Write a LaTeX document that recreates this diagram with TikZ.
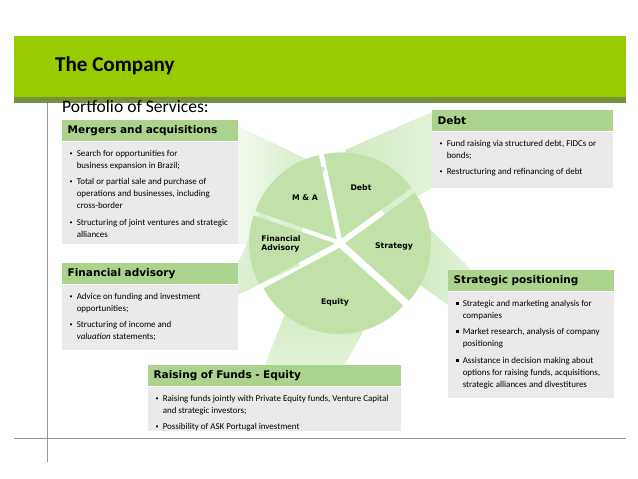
\documentclass[tikz,border=0pt]{standalone}
\usepackage{fontspec}
\setmainfont{Carlito}
\newfontfamily\hdfont{DejaVu Sans}
\usepackage{tikz}

\definecolor{bargreen}{RGB}{153,204,0}
\definecolor{stripgreen}{RGB}{118,146,60}
\definecolor{hdgreen}{RGB}{172,211,142}
\definecolor{bodygray}{RGB}{234,234,234}
\definecolor{slicegreen}{RGB}{194,225,168}
\definecolor{funnelgreen}{RGB}{208,234,192}
\definecolor{linegray}{RGB}{150,150,150}

\tikzset{
  hdbox/.style={fill=hdgreen, anchor=north west, inner xsep=3pt, inner ysep=0pt,
    minimum height=12pt, align=left, font=\hdfont\bfseries\fontsize{6}{7}\selectfont},
  bodybox/.style={fill=bodygray, anchor=north west, inner xsep=2.5pt, inner ysep=0pt,
    font=\fontsize{5.1}{6.8}\selectfont},
  slicelabel/.style={font=\hdfont\bfseries\fontsize{4.4}{5.2}\selectfont, align=left},
}
% bullet line with hanging indent
\newcommand{\smbul}{\raisebox{0.5pt}{\fontsize{3.4}{4}\selectfont\textbullet}}
\newcommand{\sqbul}{\rule[0.9pt]{1.6pt}{1.6pt}}
\newcommand{\svcitem}[2][\smbul]{\par\hangindent=5.7pt\hangafter=1\noindent
  \makebox[5.7pt][l]{\hspace{1.7pt}#1}#2\par\vspace{2.6pt}}
\newcommand{\svcbox}[3]{\parbox[t][#1][t]{#2}{\rightskip=0pt plus 1fil\relax\hfuzz=4pt\vspace{4.5pt}#3}}

\begin{document}
\begin{tikzpicture}[x=0.02cm, y=-0.02cm]
    \useasboundingbox (0,0) rectangle (638,479);
    % title bar
    \fill[bargreen](14,36) rectangle (626,97);
    \fill[stripgreen](14,97) rectangle (626,103);
    \node[anchor=west, font=\bfseries\fontsize{12}{14}\selectfont] (title) at (49,66) {The Company};
    \draw[linegray](47,103)--(47,462);
    \draw[linegray](14,438)--(626,438);
    \node[anchor=west, font=\fontsize{10}{12}\selectfont] (portfolio) at (56,106) {Portfolio of Services:};

    % funnels from the boxes to the pie
    \shade[left color=white!70!funnelgreen, right color=funnelgreen](238,126)--(325,168)--(300,235)--(238,245)--cycle;
    \shade[left color=funnelgreen, right color=white!40!funnelgreen](432,112)--(345,150)--(385,215)--(432,188)--cycle;
    \shade[left color=white!30!funnelgreen, right color=funnelgreen](238,263)--(262,210)--(300,265)--(238,295)--cycle;
    \shade[left color=funnelgreen, right color=white!40!funnelgreen](412,212)--(472,270)--(448,270)--(448,305)--(420,285)--cycle;
    \shade[top color=funnelgreen, bottom color=white!40!funnelgreen](265,365)--(290,300)--(380,300)--(345,365)--cycle;

    % exploded pie
    \begin{scope}[shift={(340,243)}, x=0.02cm, y=0.02cm]
        \foreach \a/\b in {36/102, 102/161, 161/208, 208/318, 318/396}
            \fill[slicegreen]({(\a+\b)/2}:5)--+(\a:86) arc(\a:\b:86)--cycle;
    \end{scope}
    \node[slicelabel] (ma) at (305,198) {M \& A};
    \node[slicelabel] (debt) at (361,188) {Debt};
    \node[slicelabel] (fa) at (281,244) {Financial\\Advisory};
    \node[slicelabel] (strat) at (394,246) {Strategy};
    \node[slicelabel] (eq) at (335,302) {Equity};

    % service boxes
    \node[hdbox, text width=93.8pt] (mahead) at (62,120) {Mergers and acquisitions};
    \node[bodybox] (mabody) at (mahead.south west) {\svcbox{58pt}{94.8pt}{%
        \svcitem{Search for opportunities for\\ business expansion in Brazil;}
        \svcitem{Total or partial sale and purchase of\\ operations and businesses, including\\ cross-border}
        \svcitem{Structuring of joint ventures and strategic\\ alliances}}};

    \node[hdbox, text width=97pt] (dbhead) at (432,110) {Debt};
    \node[bodybox] (dbbody) at (dbhead.south west) {\svcbox{32pt}{98pt}{%
        \svcitem{Fund raising via structured debt, FIDCs or\\ bonds;}
        \svcitem{Restructuring and refinancing of debt}}};

    \node[hdbox, text width=93.8pt] (fahead) at (62,263) {Financial advisory};
    \node[bodybox] (fabody) at (fahead.south west) {\svcbox{37pt}{94.8pt}{%
        \svcitem{Advice on funding and investment\\ opportunities;}
        \svcitem{Structuring of income and\\ \textit{valuation} statements;}}};

    \node[hdbox, text width=88.1pt] (sphead) at (448,270) {Strategic positioning};
    \node[bodybox] (spbody) at (sphead.south west) {\svcbox{60pt}{89.1pt}{%
        \svcitem[\sqbul]{Strategic and marketing analysis for\\ companies}
        \svcitem[\sqbul]{Market research, analysis of company\\ positioning}
        \svcitem[\sqbul]{Assistance in decision making about\\ options for raising funds, acquisitions,\\ strategic alliances and divestitures}}};

    \node[hdbox, text width=138pt] (rfhead) at (148,365) {Raising of Funds - Equity};
    \node[bodybox] (rfbody) at (rfhead.south west) {\svcbox{25pt}{139pt}{%
        \svcitem{Raising funds jointly with Private Equity funds, Venture Capital\\ and strategic investors;}
        \svcitem{Possibility of ASK Portugal investment}}};
\end{tikzpicture}
\end{document}
